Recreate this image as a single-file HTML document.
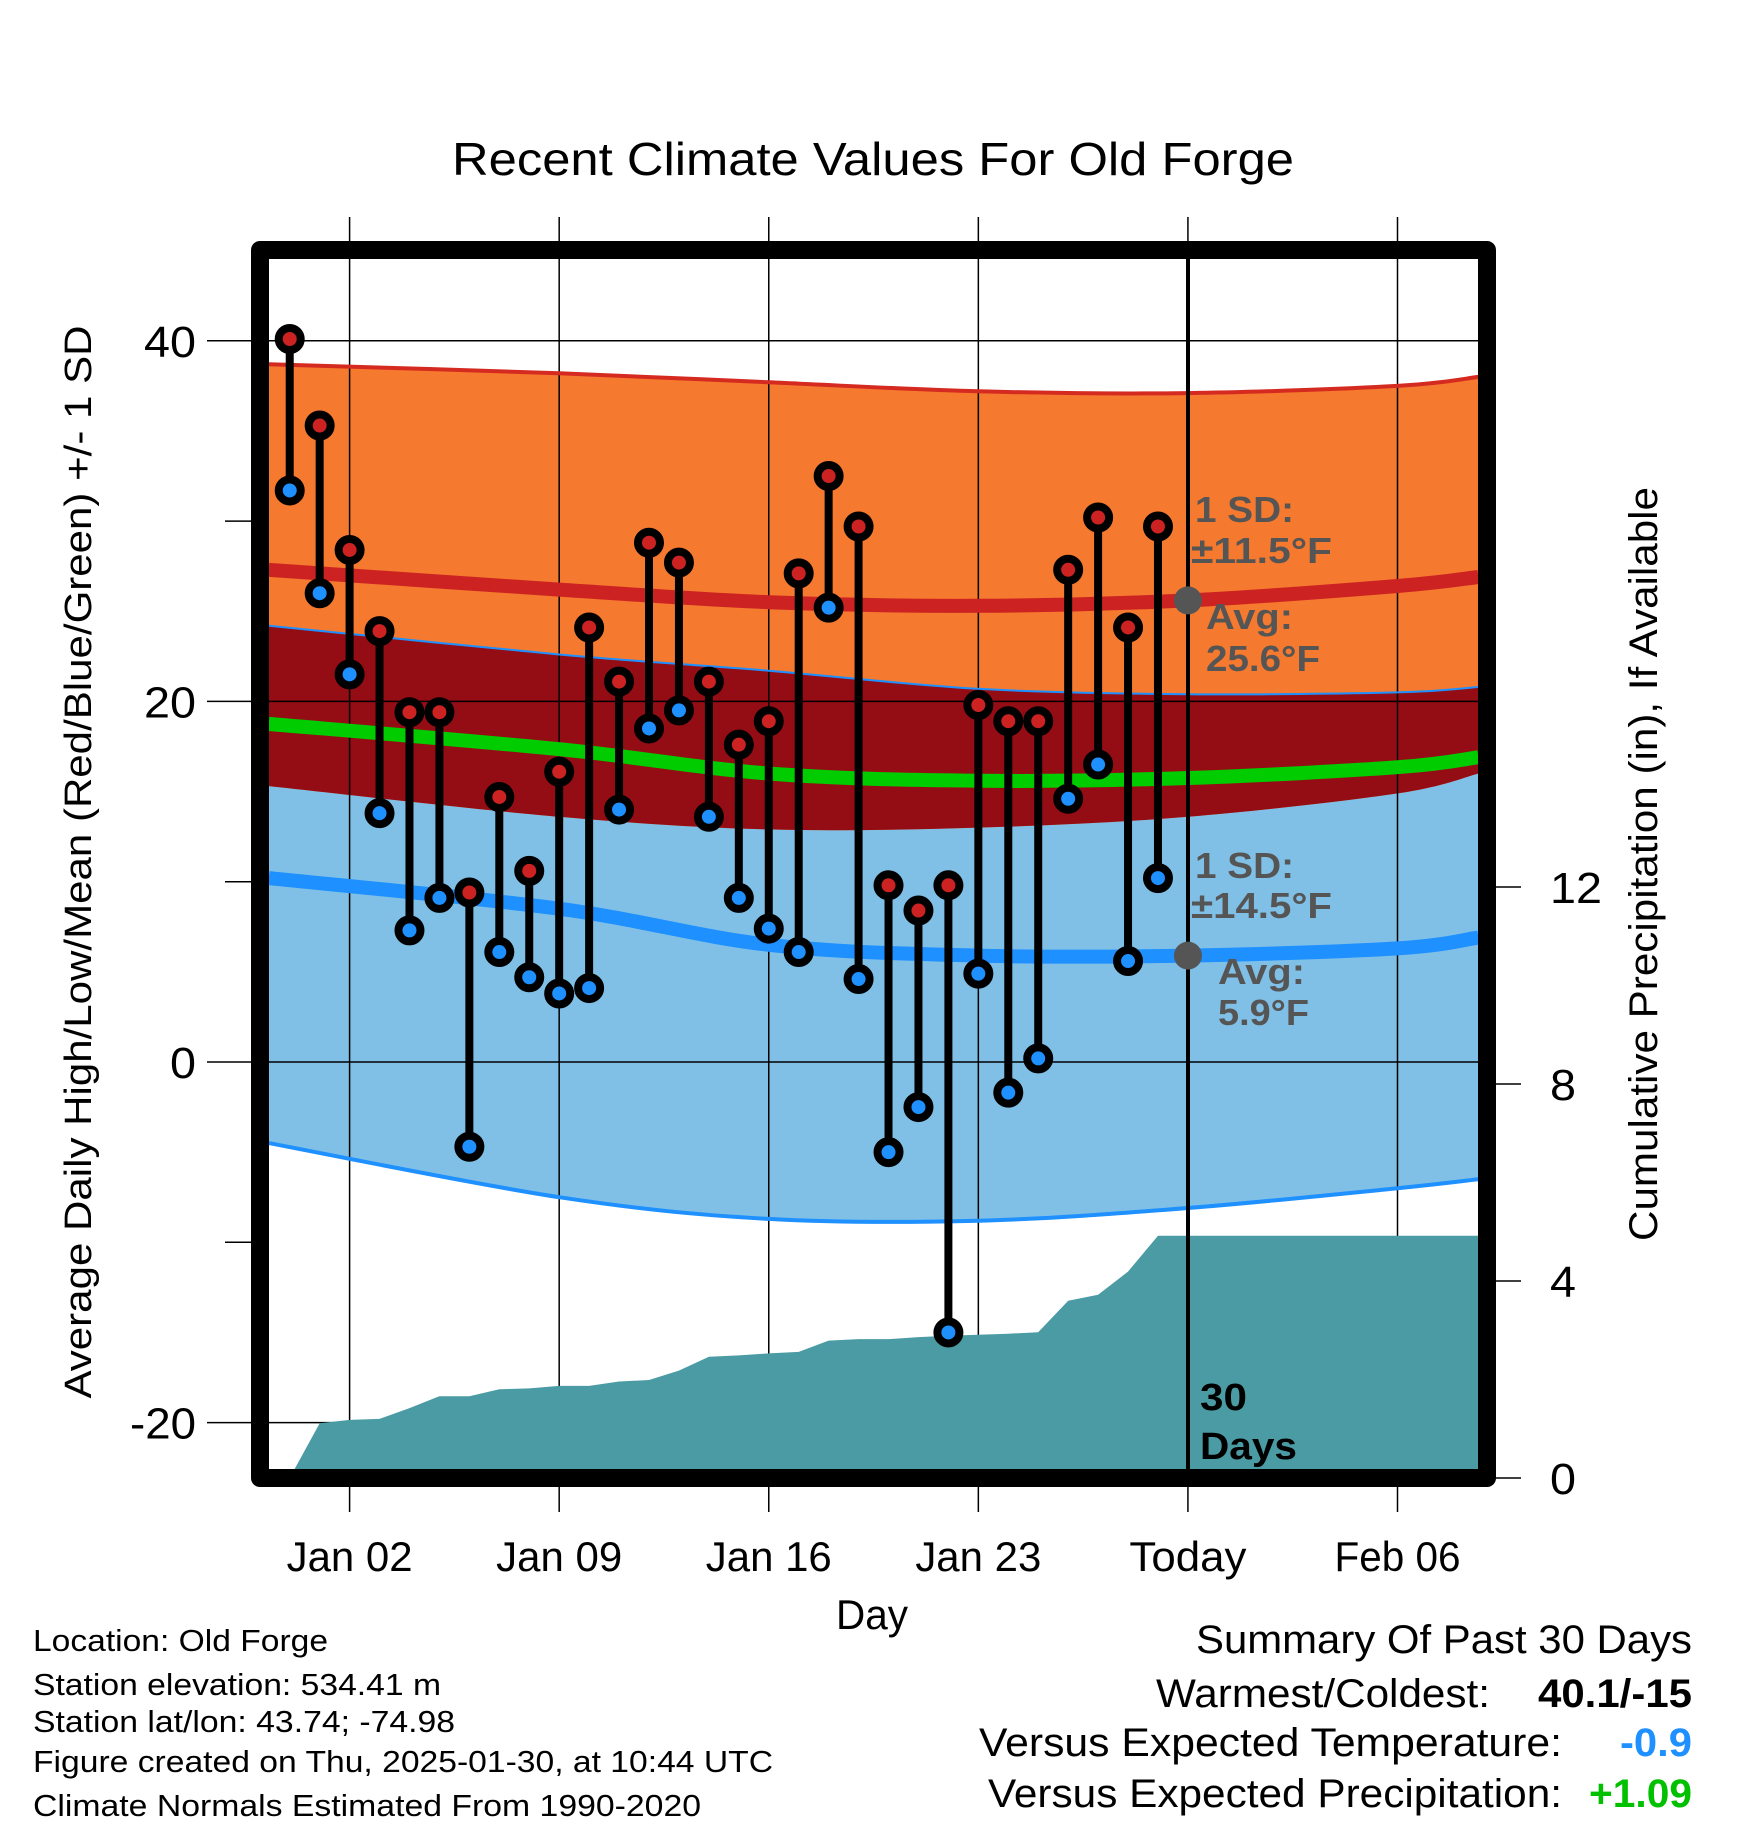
<!DOCTYPE html>
<html><head><meta charset="utf-8"><title>Recent Climate Values For Old Forge</title>
<style>
html,body{margin:0;padding:0;background:#fff;}
svg{display:block;font-family:"Liberation Sans",Arial,sans-serif;}
</style></head>
<body>
<svg id="chart" width="1748" height="1828" viewBox="0 0 1748 1828" xmlns="http://www.w3.org/2000/svg">
<defs><clipPath id="plotclip"><rect x="269" y="259" width="1209" height="1210"/></clipPath></defs>
<g id="bands" clip-path="url(#plotclip)"></g>
<g id="grid"></g>
<g id="precip" clip-path="url(#plotclip)"></g>
<g id="lines" clip-path="url(#plotclip)"></g>
<line x1="1188" y1="259" x2="1188" y2="1469" stroke="#000" stroke-width="4"/>
<g id="marks"></g>
<rect x="260" y="250" width="1227" height="1228" fill="none" stroke="#000" stroke-width="18" stroke-linejoin="round"/>
<g id="axes"></g>

<text x="452" y="175" font-size="46" textLength="842" lengthAdjust="spacingAndGlyphs">Recent Climate Values For Old Forge</text>
<text transform="translate(91,862) rotate(-90)" font-size="38" text-anchor="middle" textLength="1073" lengthAdjust="spacingAndGlyphs">Average Daily High/Low/Mean (Red/Blue/Green) +/- 1 SD</text>
<text transform="translate(1657,864) rotate(-90)" font-size="40" text-anchor="middle" textLength="754" lengthAdjust="spacingAndGlyphs">Cumulative Precipitation (in), If Available</text>
<text x="836" y="1629" font-size="42" textLength="72" lengthAdjust="spacingAndGlyphs">Day</text>

<g font-weight="bold" font-size="36" fill="#555">
<text x="1195" y="522" textLength="99" lengthAdjust="spacingAndGlyphs">1 SD:</text>
<text x="1191" y="563" textLength="141" lengthAdjust="spacingAndGlyphs">±11.5°F</text>
<text x="1206" y="629" textLength="87" lengthAdjust="spacingAndGlyphs">Avg:</text>
<text x="1206" y="671" textLength="114" lengthAdjust="spacingAndGlyphs">25.6°F</text>
</g>
<g font-weight="bold" font-size="36" fill="#555">
<text x="1195" y="878" textLength="99" lengthAdjust="spacingAndGlyphs">1 SD:</text>
<text x="1191" y="918" textLength="141" lengthAdjust="spacingAndGlyphs">±14.5°F</text>
<text x="1218" y="984" textLength="87" lengthAdjust="spacingAndGlyphs">Avg:</text>
<text x="1218" y="1025" textLength="91" lengthAdjust="spacingAndGlyphs">5.9°F</text>
</g>
<g font-weight="bold" font-size="38" fill="#000">
<text x="1200" y="1410" textLength="47" lengthAdjust="spacingAndGlyphs">30</text>
<text x="1200" y="1459" textLength="97" lengthAdjust="spacingAndGlyphs">Days</text>
</g>

<g font-size="31">
<text x="33" y="1651" textLength="295" lengthAdjust="spacingAndGlyphs">Location: Old Forge</text>
<text x="33" y="1695" textLength="408" lengthAdjust="spacingAndGlyphs">Station elevation: 534.41 m</text>
<text x="33" y="1732" textLength="422" lengthAdjust="spacingAndGlyphs">Station lat/lon: 43.74; -74.98</text>
<text x="33" y="1772" textLength="740" lengthAdjust="spacingAndGlyphs">Figure created on Thu, 2025-01-30, at 10:44 UTC</text>
<text x="33" y="1816" textLength="668" lengthAdjust="spacingAndGlyphs">Climate Normals Estimated From 1990-2020</text>
</g>
<g font-size="40">
<text x="1196" y="1653" textLength="496" lengthAdjust="spacingAndGlyphs">Summary Of Past 30 Days</text>
<text x="1156" y="1707" textLength="334" lengthAdjust="spacingAndGlyphs">Warmest/Coldest:</text>
<text x="1538" y="1707" font-weight="bold" textLength="154" lengthAdjust="spacingAndGlyphs">40.1/-15</text>
<text x="979" y="1756" textLength="583" lengthAdjust="spacingAndGlyphs">Versus Expected Temperature:</text>
<text x="1620" y="1756" font-weight="bold" fill="#1e90ff" textLength="72" lengthAdjust="spacingAndGlyphs">-0.9</text>
<text x="988" y="1807" textLength="574" lengthAdjust="spacingAndGlyphs">Versus Expected Precipitation:</text>
<text x="1589" y="1807" font-weight="bold" fill="#00c000" textLength="103" lengthAdjust="spacingAndGlyphs">+1.09</text>
</g>
</svg>
<script>
// day index: 0 = Jan 02
const days = [-2,-1,0,1,2,3,4,5,6,7,8,9,10,11,12,13,14,15,16,17,18,19,20,21,22,23,24,25,26,27];
const highs = [40.1,35.3,28.4,23.9,19.4,19.4,9.4,14.7,10.6,16.1,24.1,21.1,28.8,27.7,21.1,17.6,18.9,27.1,32.5,29.7,9.8,8.4,9.8,19.8,18.9,18.9,27.3,30.2,24.1,29.7];
const lows = [31.7,26.0,21.5,13.8,7.3,9.1,-4.7,6.1,4.7,3.8,4.1,14.0,18.5,19.5,13.6,9.1,7.4,6.1,25.2,4.6,-5.0,-2.5,-15.0,4.9,-1.7,0.2,14.6,16.5,5.6,10.2];
const precip = [0,1.11,1.18,1.2,1.42,1.66,1.66,1.8,1.82,1.87,1.87,1.96,1.99,2.18,2.46,2.49,2.53,2.56,2.79,2.82,2.82,2.86,2.89,2.91,2.93,2.96,3.6,3.72,4.19,4.92];
const normDays = [-2.7,7,14,21,28,35,37.7];
const hiUpper = [38.7,38.2,37.7,37.2,37.1,37.5,38.0];
const hiAvg = [27.3,26.2,25.5,25.3,25.6,26.4,26.9];
const hiLower = [15.3,13.6,12.9,13.0,13.6,14.9,16.0];
const loUpper = [24.2,22.6,21.7,20.7,20.4,20.5,20.8];
const loAvg = [10.2,8.5,6.5,5.9,5.9,6.3,6.9];
const loLower = [-4.5,-7.5,-8.7,-8.8,-8.1,-7.0,-6.5];
const tempTicks = [40,20,0,-20];
const tempMinor = [30,10,-10];
const precipTicks = [0,4,8,12];
const dateTicks = [0,7,14,21,28,35];
const dateLabels = ["Jan 02","Jan 09","Jan 16","Jan 23","Today","Feb 06"];

const NS="http://www.w3.org/2000/svg";
const X = d => 349.6 + 29.94*d;
const Y = t => 1062 - 18.03*t;
const P = p => 1478 - 49.25*p;
function mk(tag, attrs, parent){const e=document.createElementNS(NS,tag);for(const k in attrs)e.setAttribute(k,attrs[k]);parent.appendChild(e);return e;}
const g = id => document.getElementById(id);
// smooth curve through points (Catmull-Rom -> cubic Bezier)
function curvePts(arr){return normDays.map((d,i)=>[X(d),Y(arr[i])]);}
function smooth(p, startMove){
  let s = (startMove?"M":"L")+p[0][0].toFixed(1)+","+p[0][1].toFixed(1);
  for(let i=0;i<p.length-1;i++){
    const p0=p[Math.max(0,i-1)],p1=p[i],p2=p[i+1],p3=p[Math.min(p.length-1,i+2)];
    const c1=[p1[0]+(p2[0]-p0[0])/6,p1[1]+(p2[1]-p0[1])/6];
    const c2=[p2[0]-(p3[0]-p1[0])/6,p2[1]-(p3[1]-p1[1])/6];
    s+=" C"+c1[0].toFixed(1)+","+c1[1].toFixed(1)+" "+c2[0].toFixed(1)+","+c2[1].toFixed(1)+" "+p2[0].toFixed(1)+","+p2[1].toFixed(1);
  }
  return s;
}
function band(upper, lower){return smooth(curvePts(upper),true)+" "+smooth(curvePts(lower).reverse(),false)+" Z";}
const hiL2 = hiLower.map((v,i)=>Math.max(v,loLower[i]));
let e;
e=mk("path",{d:band(loUpper,loLower),fill:"#80c0e6"},g("bands"));


e=mk("path",{d:band(hiUpper,hiLower),fill:"#f5792e"},g("bands"));


e=mk("path",{d:band(loUpper,hiL2),fill:"#940d14"},g("bands"));



tempTicks.forEach(t=>{
  e=mk("line",{x1:269,x2:1478,y1:Y(t),y2:Y(t),stroke:"#000","stroke-width":1.5},g("grid"));
  
  
});
dateTicks.forEach(d=>{
  e=mk("line",{x1:X(d),x2:X(d),y1:217,y2:1512,stroke:"#000","stroke-width":1.5},g("grid"));
  
  
});

let pd="M"+X(days[0])+","+P(precip[0]);
days.forEach((d,i)=>{pd+=" L"+X(d).toFixed(1)+","+P(precip[i]).toFixed(1);});
pd+=" L1480,"+P(precip[precip.length-1]).toFixed(1)+" L1480,1480 L"+X(days[0])+",1480 Z";
e=mk("path",{d:pd,fill:"#4a9ba3"},g("precip"));



function line(arr,color,w,name){
  const l=mk("path",{d:smooth(curvePts(arr),true),fill:"none",stroke:color,"stroke-width":w},g("lines"));
  
  
}
line(hiUpper,"#d42a20",4,"high-upper-line");
line(loUpper,"#1e90ff",2,"low-upper-line");
line(loLower,"#1e90ff",4,"low-lower-line");
line(hiAvg,"#cc2222",14,"high-avg-line");
line(loAvg,"#1e90ff",14,"low-avg-line");
line(hiAvg.map((v,i)=>(v+loAvg[i])/2),"#00cc00",14,"mean-line");

[[28,hiAvg[4]],[28,loAvg[4]]].forEach(p=>{
  e=mk("circle",{cx:X(p[0]),cy:Y(p[1]),r:14,fill:"#555"},g("marks"));
  
  
});

days.forEach((d,i)=>{
  const x=X(d);
  e=mk("line",{x1:x,x2:x,y1:Y(highs[i]),y2:Y(lows[i]),stroke:"#000","stroke-width":8},g("marks"));
  
  
  e=mk("circle",{cx:x,cy:Y(lows[i]),r:11,fill:"#1e90ff",stroke:"#000","stroke-width":8},g("marks"));
  
  
  e=mk("circle",{cx:x,cy:Y(highs[i]),r:11,fill:"#cc2222",stroke:"#000","stroke-width":8},g("marks"));
  
  
});

function numLen(s){let w=0;for(const c of s)w+=(c==="-")?14:26;return w;}
tempTicks.forEach(t=>{
  e=mk("line",{x1:207,x2:252,y1:Y(t),y2:Y(t),stroke:"#000","stroke-width":1.5},g("axes"));
  
  
  e=mk("text",{x:196,y:Y(t)+16,"font-size":44,"text-anchor":"end",textLength:numLen(String(t)),lengthAdjust:"spacingAndGlyphs"},g("axes"));
  e.textContent=String(t);
  
  
});
tempMinor.forEach(t=>{
  e=mk("line",{x1:225,x2:252,y1:Y(t),y2:Y(t),stroke:"#000","stroke-width":1.5},g("axes"));
  
  
});
precipTicks.forEach(p=>{
  e=mk("line",{x1:1495,x2:1521,y1:P(p),y2:P(p),stroke:"#000","stroke-width":1.5},g("axes"));
  
  
  e=mk("text",{x:1550,y:P(p)+16,"font-size":44,textLength:numLen(String(p)),lengthAdjust:"spacingAndGlyphs"},g("axes"));
  e.textContent=String(p);
  
  
});
dateTicks.forEach((d,i)=>{
  const s=dateLabels[i];
  e=mk("text",{x:X(d),y:1571,"font-size":42,"text-anchor":"middle",textLength:(s==="Today"?117:126),lengthAdjust:"spacingAndGlyphs"},g("axes"));
  e.textContent=s;
  
  
});
</script>
</body></html>
